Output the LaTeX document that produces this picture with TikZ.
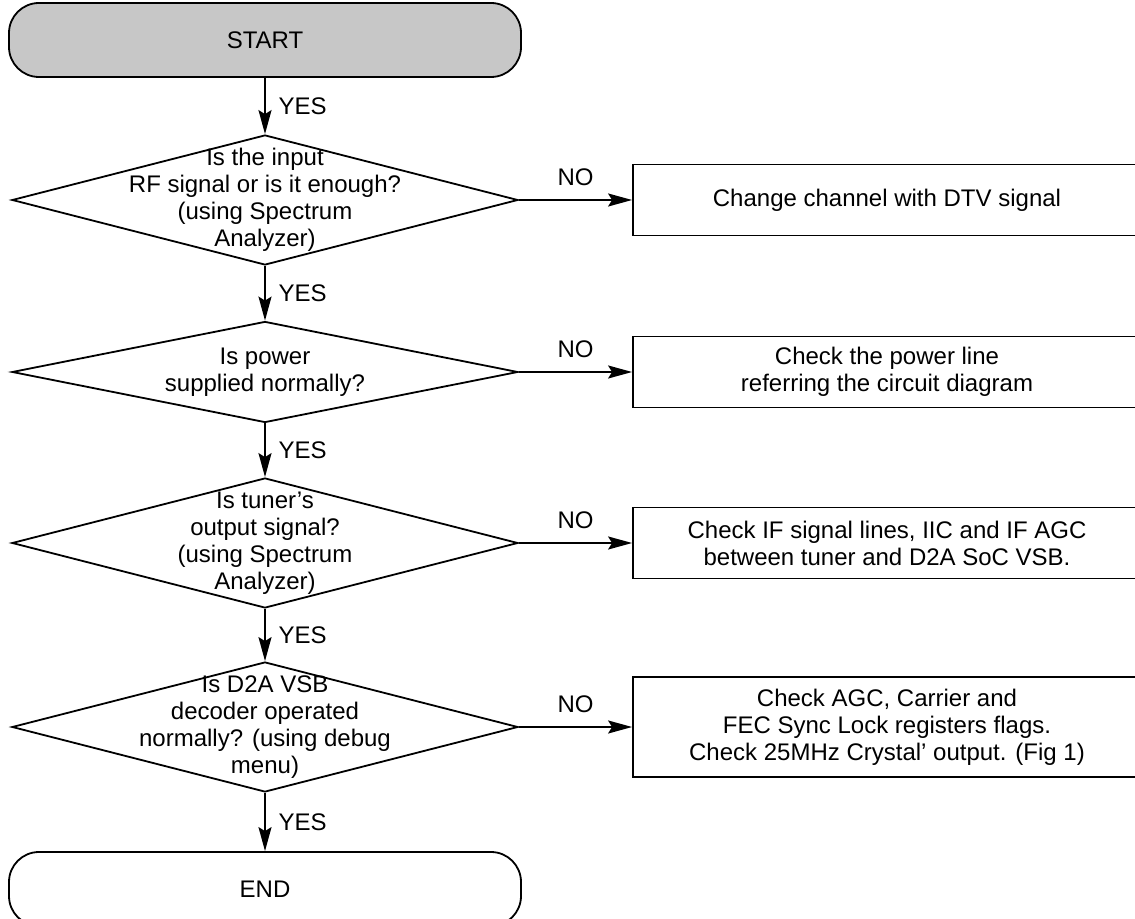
\documentclass[tikz,border=0pt]{standalone}
\usepackage{fontspec}
\setmainfont{Liberation Sans}
\usetikzlibrary{arrows.meta,quotes,shapes.geometric}

\begin{document}
\begin{tikzpicture}[
	x = 0.5pt, y = -0.5pt,
	> = {Stealth[length=12pt,width=6.5pt,inset=2pt]},
	every node/.style = {font=\fontsize{12}{13.5}\selectfont},
	every edge quotes/.style = {},
	terminal/.style = {draw, line width=0.9pt, rounded corners=15pt, minimum width=256pt, minimum height=37pt},
	decision/.style = {draw, diamond, line width=0.9pt, inner sep=0pt, minimum width=253pt, minimum height=65pt},
	process/.style = {draw, rectangle, line width=0.9pt, align=center, minimum width=254pt, minimum height=35.5pt},
	qtext/.style = {align=center},
	yeslabel/.style = {right=3pt},
	nolabel/.style = {above=3.5pt}
	]
	\useasboundingbox (0,0) rectangle (1135,919);
	\node[terminal, fill=black!22] (start) at (265,40) {START};
	\node[decision, label={[qtext, name=q1text]center:Is the input\\RF signal or is it enough?\\(using Spectrum\\Analyzer)}] (q1) at (265,200) {};
	\node[process] (fix1) at (887,200) {Change channel with DTV signal};
	\node[decision, minimum height=50.5pt, label={[qtext, name=q2text]center:Is power\\supplied normally?}] (q2) at (265,372) {};
	\node[process] (fix2) at (887,372) {Check the power line\\referring the circuit diagram};
	\node[decision, label={[qtext, name=q3text]center:Is tuner’s\\output signal?\\(using Spectrum\\Analyzer)}] (q3) at (265,543) {};
	\node[process] (fix3) at (887,543) {Check IF signal lines, IIC and IF AGC\\between tuner and D2A SoC VSB.};
	\node[decision, label={[qtext, name=q4text]center:Is D2A VSB\\decoder operated\\normally? (using debug\\menu)}] (q4) at (265,727) {};
	\node[process, minimum height=50pt] (fix4) at (887,727) {Check AGC, Carrier and\\FEC Sync Lock registers flags.\\Check 25MHz Crystal’ output. (Fig 1)};
	\node[terminal] (end) at (265,889) {END};
	\path[->, line width=0.9pt]
	(start) edge["YES" yeslabel] (q1)
	(q1) edge["YES" yeslabel] (q2)
	(q2) edge["YES" yeslabel] (q3)
	(q3) edge["YES" yeslabel] (q4)
	(q4) edge["YES" yeslabel] (end)
	(q1) edge["NO" nolabel] (fix1)
	(q2) edge["NO" nolabel] (fix2)
	(q3) edge["NO" nolabel] (fix3)
	(q4) edge["NO" nolabel] (fix4);
\end{tikzpicture}
\end{document}
